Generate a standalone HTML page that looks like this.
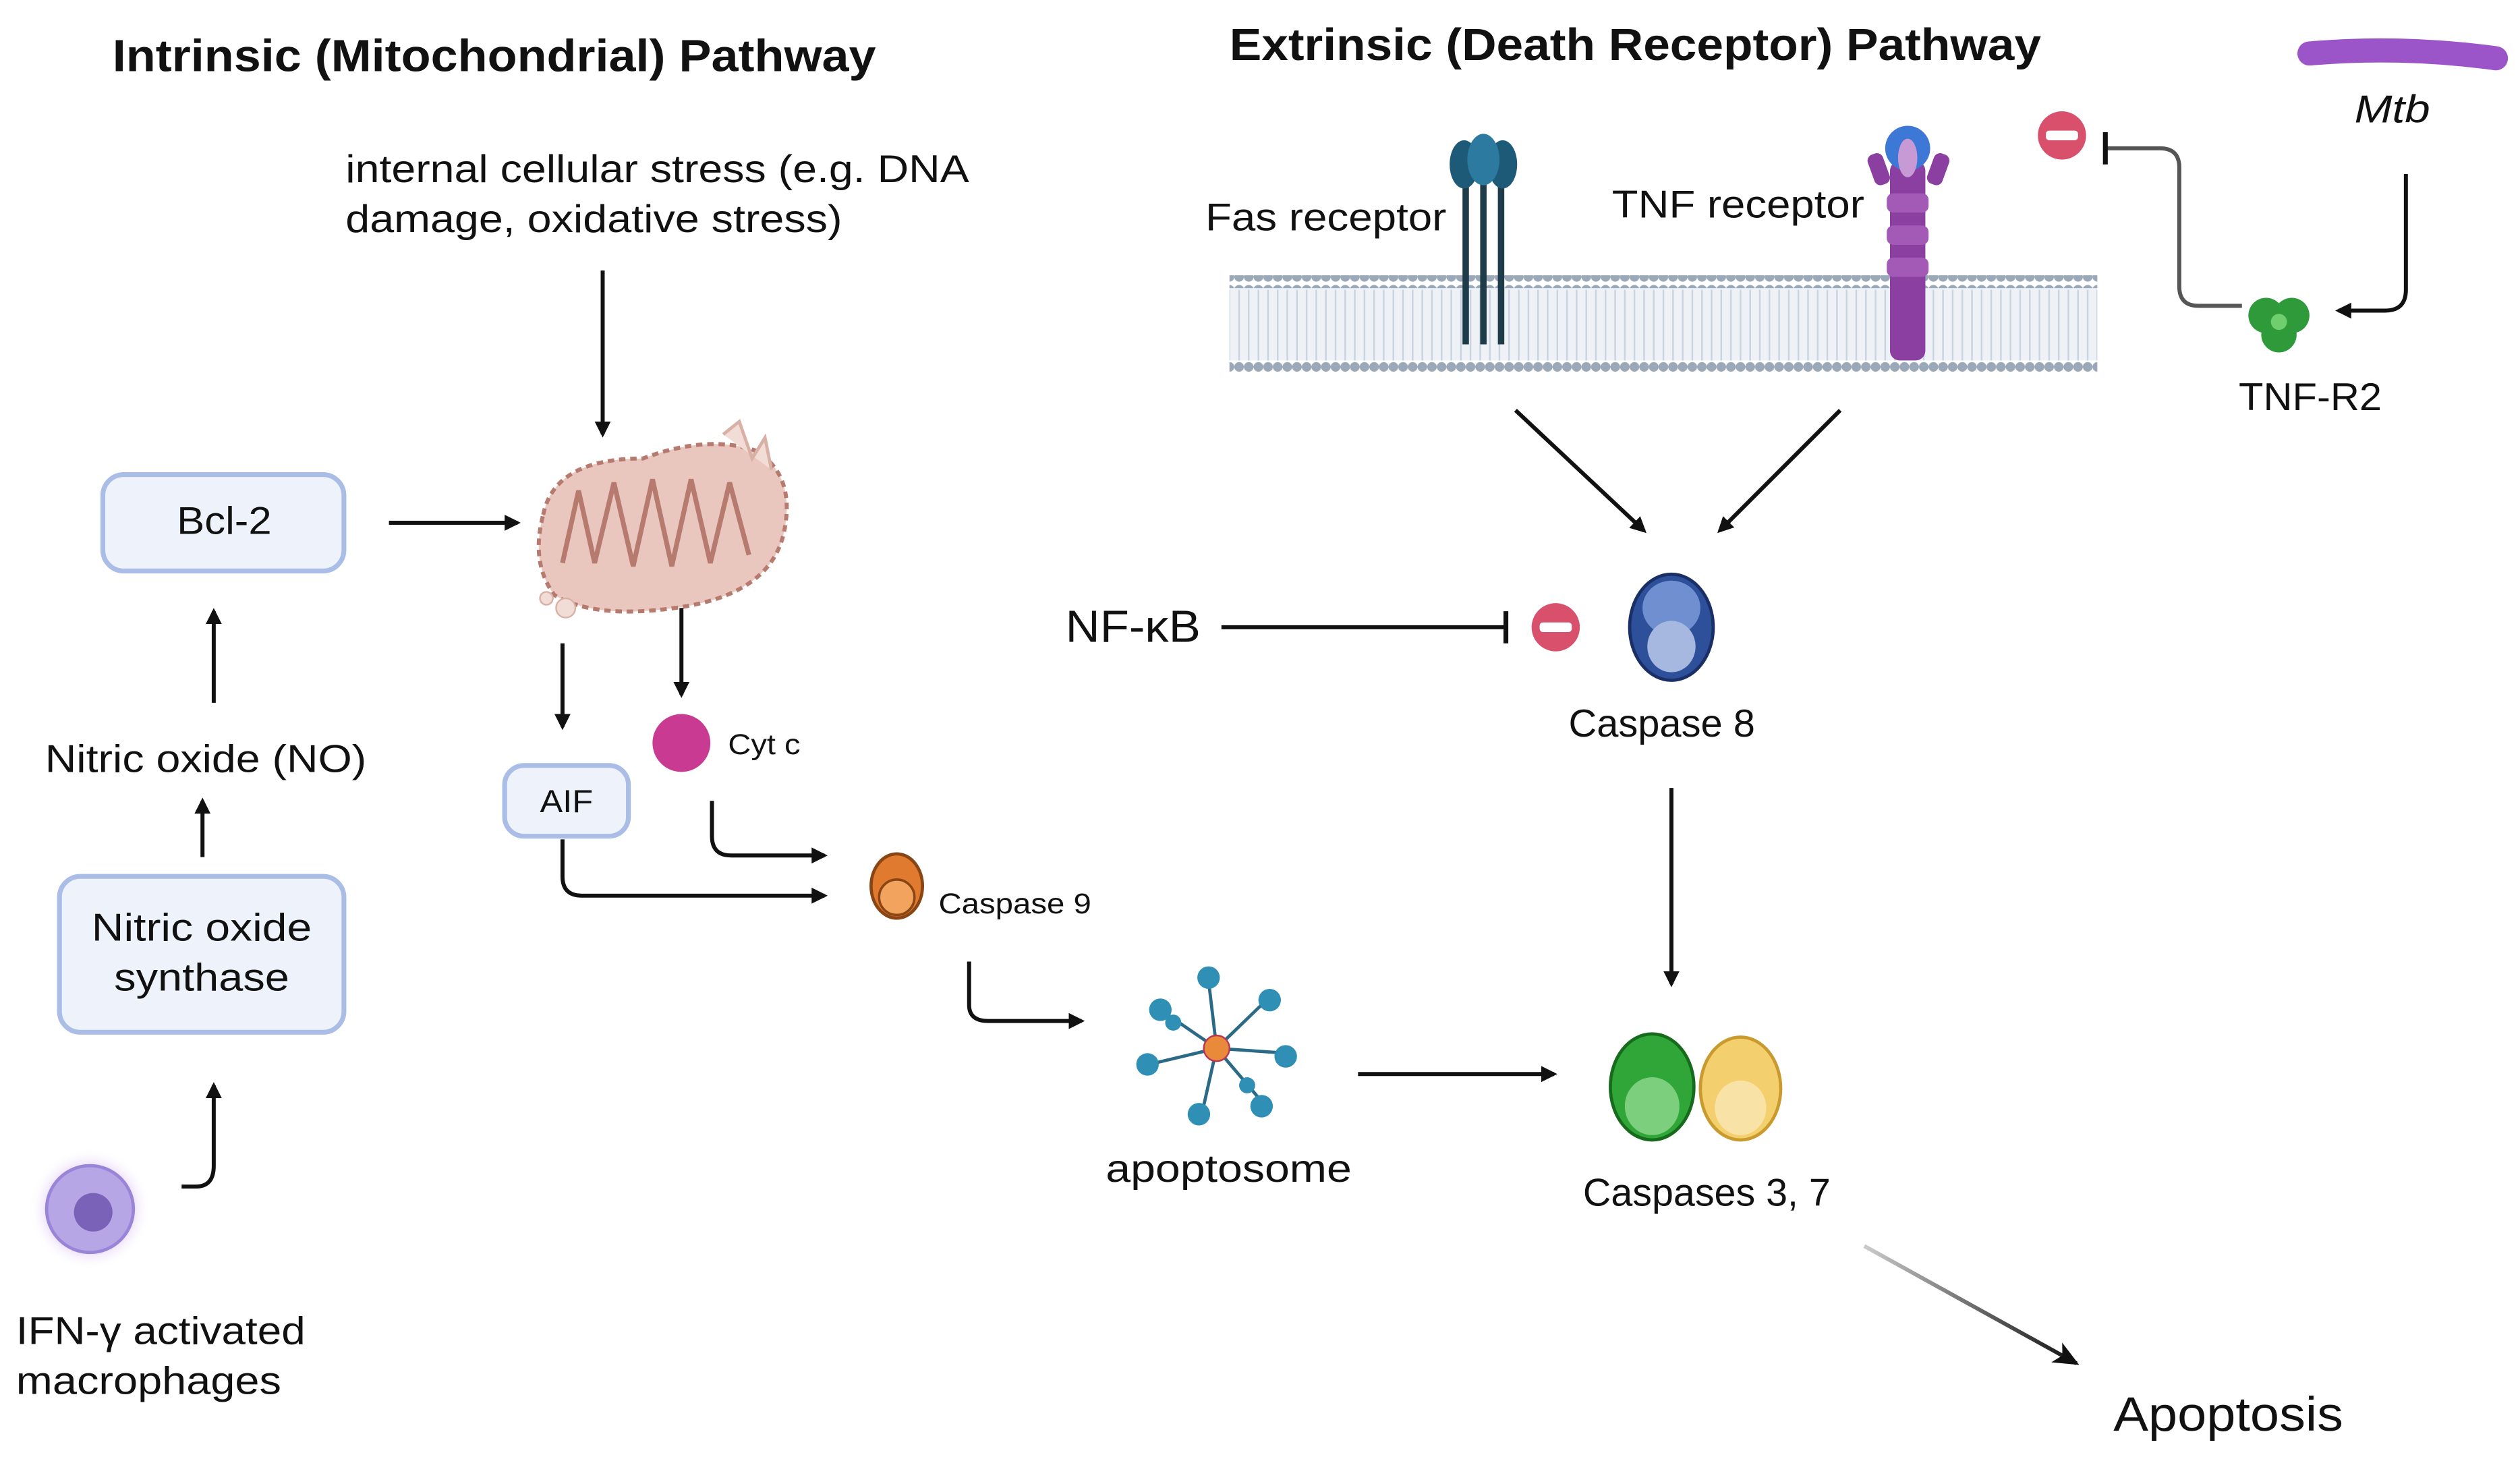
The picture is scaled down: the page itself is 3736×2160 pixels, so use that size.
<!DOCTYPE html>
<html><head><meta charset="utf-8">
<style>
html,body{margin:0;padding:0;background:#fff;}
svg{display:block;}
text{font-family:"Liberation Sans",sans-serif;fill:#111;}
</style></head>
<body>
<svg width="3736" height="2160" viewBox="0 0 1568 906" xmlns="http://www.w3.org/2000/svg">
<defs>
<marker id="ah" markerWidth="10" markerHeight="10" refX="8" refY="5" orient="auto" markerUnits="userSpaceOnUse" viewBox="0 0 10 10">
<path d="M0,0 L10,5 L0,10 Z" fill="#111"/>
</marker>
<marker id="ah2" markerWidth="16" markerHeight="14" refX="14" refY="7" orient="auto" markerUnits="userSpaceOnUse">
<path d="M0,0 L16,7 L0,14 L4,7 Z" fill="#111"/>
</marker>
<linearGradient id="gline" x1="0" y1="0" x2="1" y2="0">
<stop offset="0" stop-color="#ccc"/><stop offset="1" stop-color="#111"/>
</linearGradient>
<radialGradient id="glow"><stop offset="0.5" stop-color="#c9a6f0"/><stop offset="1" stop-color="#fff" stop-opacity="0"/></radialGradient>
<pattern id="dots" width="6" height="8" patternUnits="userSpaceOnUse"><circle cx="3" cy="4" r="3" fill="#9aa8b8"/></pattern>
<pattern id="tails" width="6" height="40" patternUnits="userSpaceOnUse"><line x1="3" y1="0" x2="3" y2="40" stroke="#c9d3df" stroke-width="1"/></pattern>
</defs>

<text x="70" y="44" font-size="28" font-weight="bold" textLength="475" lengthAdjust="spacingAndGlyphs">Intrinsic (Mitochondrial) Pathway</text>
<text x="765" y="37" font-size="28" font-weight="bold" textLength="505" lengthAdjust="spacingAndGlyphs">Extrinsic (Death Receptor) Pathway</text>

<path d="M1437,33 Q1495,28 1553,36" stroke="#9b55c8" stroke-width="15" stroke-linecap="round" fill="none"/>
<text x="1465" y="76" font-size="24" font-style="italic" textLength="47" lengthAdjust="spacingAndGlyphs">Mtb</text>

<text x="215" y="113" font-size="24" textLength="388" lengthAdjust="spacingAndGlyphs">internal cellular stress (e.g. DNA</text>
<text x="215" y="144" font-size="24" textLength="309" lengthAdjust="spacingAndGlyphs">damage, oxidative stress)</text>
<line x1="375" y1="168" x2="375" y2="270" stroke="#111" stroke-width="2.5" marker-end="url(#ah)"/>

<rect x="64" y="295" width="150" height="60" rx="13" fill="#eef3fb" stroke="#a9bde6" stroke-width="3"/>
<text x="110" y="332" font-size="24" textLength="59" lengthAdjust="spacingAndGlyphs">Bcl-2</text>
<line x1="242" y1="325" x2="322" y2="325" stroke="#111" stroke-width="2.5" marker-end="url(#ah)"/>

<g>
<path d="M338,320 Q345,285 400,285 Q440,270 470,280 Q495,295 488,330 Q480,370 420,378 Q370,385 345,370 Q330,350 338,320 Z" fill="#e9c6be" stroke="#b67a6f" stroke-width="2.5" stroke-dasharray="4,3"/>
<path d="M350,350 L360,305 L370,350 L382,300 L394,352 L406,298 L418,352 L430,298 L442,350 L454,300 L466,345" fill="none" stroke="#b67a6f" stroke-width="3"/>
<path d="M450,270 L460,262 L468,285 L476,272 L480,292" fill="#f1ddd6" stroke="#d9b0a6" stroke-width="2"/>
<circle cx="352" cy="378" r="6" fill="#f1ddd6" stroke="#d9b0a6"/>
<circle cx="340" cy="372" r="4" fill="#f1ddd6" stroke="#d9b0a6"/>
</g>
<line x1="350" y1="400" x2="350" y2="452" stroke="#111" stroke-width="2.5" marker-end="url(#ah)"/>
<line x1="424" y1="378" x2="424" y2="432" stroke="#111" stroke-width="2.5" marker-end="url(#ah)"/>

<rect x="314" y="476" width="77" height="44" rx="12" fill="#eef3fb" stroke="#a9bde6" stroke-width="3"/>
<text x="336" y="505" font-size="20" textLength="33" lengthAdjust="spacingAndGlyphs">AIF</text>
<circle cx="424" cy="462" r="18" fill="#c93a93"/>
<text x="453" y="469" font-size="18" textLength="45" lengthAdjust="spacingAndGlyphs">Cyt c</text>
<path d="M443,498 L443,520 Q443,532 455,532 L513,532" fill="none" stroke="#111" stroke-width="2.5" marker-end="url(#ah)"/>
<path d="M350,522 L350,545 Q350,557 362,557 L513,557" fill="none" stroke="#111" stroke-width="2.5" marker-end="url(#ah)"/>

<ellipse cx="558" cy="551" rx="16" ry="20" fill="#e07a2e" stroke="#8a4515" stroke-width="2"/>
<ellipse cx="558" cy="558" rx="11" ry="11" fill="#f2a45e" stroke="#8a4515" stroke-width="1.5"/>
<text x="584" y="568" font-size="18" textLength="95" lengthAdjust="spacingAndGlyphs">Caspase 9</text>
<path d="M603,598 L603,625 Q603,635 615,635 L673,635" fill="none" stroke="#111" stroke-width="2.5" marker-end="url(#ah)"/>

<g stroke="#2a6a86" stroke-width="2" fill="none">
<line x1="757" y1="652" x2="722" y2="628"/><line x1="757" y1="652" x2="752" y2="610"/>
<line x1="757" y1="652" x2="788" y2="622"/><line x1="757" y1="652" x2="800" y2="655"/>
<line x1="757" y1="652" x2="785" y2="685"/><line x1="757" y1="652" x2="748" y2="692"/>
<line x1="757" y1="652" x2="715" y2="662"/>
</g>
<g fill="#2f8fb5">
<circle cx="722" cy="628" r="7"/><circle cx="752" cy="608" r="7"/><circle cx="790" cy="622" r="7"/>
<circle cx="800" cy="657" r="7"/><circle cx="785" cy="688" r="7"/><circle cx="746" cy="693" r="7"/>
<circle cx="714" cy="662" r="7"/><circle cx="730" cy="636" r="5"/><circle cx="776" cy="675" r="5"/>
</g>
<circle cx="757" cy="652" r="8" fill="#e88a3a" stroke="#b35"/>
<text x="688" y="735" font-size="24" textLength="153" lengthAdjust="spacingAndGlyphs">apoptosome</text>
<line x1="845" y1="668" x2="967" y2="668" stroke="#111" stroke-width="2.5" marker-end="url(#ah)"/>

<ellipse cx="1028" cy="676" rx="26" ry="33" fill="#2fa637" stroke="#176b1d" stroke-width="2"/>
<ellipse cx="1028" cy="688" rx="17" ry="18" fill="#7ccf7c"/>
<ellipse cx="1083" cy="677" rx="25" ry="32" fill="#f4cf6e" stroke="#c99a2e" stroke-width="2"/>
<ellipse cx="1083" cy="689" rx="16" ry="17" fill="#f8e2a6"/>
<text x="985" y="750" font-size="24" textLength="154" lengthAdjust="spacingAndGlyphs">Caspases 3, 7</text>

<line x1="1160" y1="775" x2="1292" y2="848" stroke="url(#gline)" stroke-width="2.5" marker-end="url(#ah2)"/>
<text x="1315" y="890" font-size="30" textLength="143" lengthAdjust="spacingAndGlyphs">Apoptosis</text>

<ellipse cx="1040" cy="390" rx="26" ry="33" fill="#2e4f9a" stroke="#1a2f66" stroke-width="2"/>
<ellipse cx="1040" cy="378" rx="18" ry="17" fill="#6f8fd0"/>
<ellipse cx="1040" cy="402" rx="15" ry="16" fill="#a6b8e0"/>
<text x="976" y="458" font-size="24" textLength="116" lengthAdjust="spacingAndGlyphs">Caspase 8</text>
<line x1="1040" y1="490" x2="1040" y2="612" stroke="#111" stroke-width="2.5" marker-end="url(#ah)"/>

<text x="663" y="399" font-size="28" textLength="84" lengthAdjust="spacingAndGlyphs">NF-κB</text>
<line x1="760" y1="390" x2="937" y2="390" stroke="#111" stroke-width="2.5"/>
<line x1="937" y1="380" x2="937" y2="400" stroke="#111" stroke-width="3"/>
<circle cx="968" cy="390" r="15" fill="#d9506c"/>
<rect x="958" y="387" width="20" height="6" rx="2" fill="#fff"/>

<rect x="765" y="178" width="540" height="46" fill="#eef2f7"/>
<rect x="765" y="180" width="540" height="44" fill="url(#tails)"/>
<rect x="765" y="171" width="540" height="8" fill="url(#dots)"/>
<rect x="765" y="224" width="540" height="8" fill="url(#dots)"/>

<text x="750" y="143" font-size="24" textLength="150" lengthAdjust="spacingAndGlyphs">Fas receptor</text>
<g>
<line x1="912" y1="108" x2="912" y2="214" stroke="#1e3b4a" stroke-width="4"/>
<line x1="923" y1="108" x2="923" y2="214" stroke="#1e3b4a" stroke-width="4"/>
<line x1="934" y1="108" x2="934" y2="214" stroke="#1e3b4a" stroke-width="4"/>
<ellipse cx="911" cy="102" rx="9" ry="15" fill="#1d5a78"/>
<ellipse cx="935" cy="102" rx="9" ry="15" fill="#1d5a78"/>
<ellipse cx="923" cy="99" rx="10" ry="16" fill="#2d7aa0"/>
</g>

<text x="1003" y="135" font-size="24" textLength="157" lengthAdjust="spacingAndGlyphs">TNF receptor</text>
<g>
<rect x="1176" y="100" width="22" height="124" rx="6" fill="#8b3fa0"/>
<rect x="1164" y="95" width="10" height="20" rx="4" fill="#8b3fa0" transform="rotate(-20 1169 105)"/>
<rect x="1201" y="95" width="10" height="20" rx="4" fill="#8b3fa0" transform="rotate(20 1206 105)"/>
<rect x="1174" y="120" width="26" height="12" rx="4" fill="#a25ab6"/>
<rect x="1174" y="140" width="26" height="12" rx="4" fill="#a25ab6"/>
<rect x="1174" y="160" width="26" height="12" rx="4" fill="#a25ab6"/>
<ellipse cx="1187" cy="92" rx="14" ry="14" fill="#3d78d6"/>
<ellipse cx="1187" cy="98" rx="6" ry="12" fill="#c79ad6"/>
</g>

<line x1="943" y1="255" x2="1023" y2="330" stroke="#111" stroke-width="2.5" marker-end="url(#ah)"/>
<line x1="1145" y1="255" x2="1070" y2="330" stroke="#111" stroke-width="2.5" marker-end="url(#ah)"/>

<circle cx="1410" cy="196" r="11" fill="#2e9a3a"/>
<circle cx="1426" cy="196" r="11" fill="#2e9a3a"/>
<circle cx="1418" cy="208" r="11" fill="#2e9a3a"/>
<circle cx="1418" cy="200" r="5" fill="#6fcf6f"/>
<text x="1393" y="255" font-size="24" textLength="89" lengthAdjust="spacingAndGlyphs">TNF-R2</text>
<path d="M1497,108 L1497,180 Q1497,193 1484,193 L1455,193" fill="none" stroke="#111" stroke-width="2.5" marker-end="url(#ah)"/>
<path d="M1395,190 L1368,190 Q1356,190 1356,178 L1356,104 Q1356,92 1344,92 L1310,92" fill="none" stroke="#555" stroke-width="2.5"/>
<line x1="1310" y1="82" x2="1310" y2="102" stroke="#111" stroke-width="3"/>
<circle cx="1283" cy="84" r="15" fill="#d9506c"/>
<rect x="1273" y="81" width="20" height="6" rx="2" fill="#fff"/>

<text x="28" y="480" font-size="24" textLength="200" lengthAdjust="spacingAndGlyphs">Nitric oxide (NO)</text>
<line x1="133" y1="437" x2="133" y2="380" stroke="#111" stroke-width="2.5" marker-end="url(#ah)"/>
<line x1="126" y1="533" x2="126" y2="498" stroke="#111" stroke-width="2.5" marker-end="url(#ah)"/>
<rect x="37" y="545" width="177" height="97" rx="13" fill="#eef3fb" stroke="#a9bde6" stroke-width="3"/>
<text x="57" y="585" font-size="24" textLength="137" lengthAdjust="spacingAndGlyphs">Nitric oxide</text>
<text x="71" y="616" font-size="24" textLength="109" lengthAdjust="spacingAndGlyphs">synthase</text>
<path d="M113,738 L122,738 Q133,738 133,725 L133,675" fill="none" stroke="#111" stroke-width="2.5" marker-end="url(#ah)"/>
<circle cx="56" cy="752" r="38" fill="url(#glow)"/>
<circle cx="56" cy="752" r="27" fill="#b7a6e6" stroke="#9a84d8" stroke-width="2"/>
<circle cx="58" cy="754" r="12" fill="#7a62b8"/>
<text x="10" y="836" font-size="24" textLength="180" lengthAdjust="spacingAndGlyphs">IFN-γ activated</text>
<text x="10" y="867" font-size="24" textLength="165" lengthAdjust="spacingAndGlyphs">macrophages</text>
</svg>
</body></html>
